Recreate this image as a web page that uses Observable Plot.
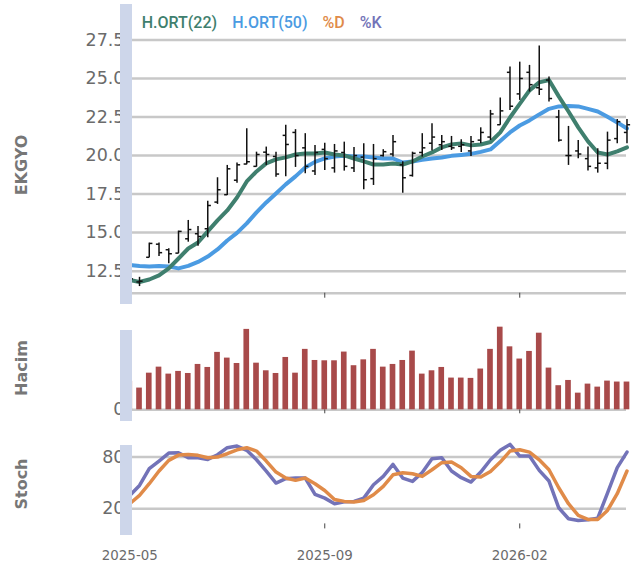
<!DOCTYPE html>
<html><head><meta charset="utf-8">
<script src="https://cdn.jsdelivr.net/npm/d3@7"></script>
<script src="https://cdn.jsdelivr.net/npm/@observablehq/plot@0.6"></script>
<style>
body{margin:0;background:#fff;}
#wrap{position:relative;width:641px;height:570px;overflow:hidden;font-family:"DejaVu Sans",sans-serif;}
#wrap svg{display:block;}
.strip{position:absolute;left:120px;width:11.7px;background:#cdd6ea;}
.ytitle{position:absolute;left:22px;transform:translate(-50%,-50%) rotate(-90deg);font-family:"DejaVu Sans",sans-serif;font-weight:bold;font-size:16px;color:#777;white-space:nowrap;line-height:16px;}
#legend{position:absolute;left:141.7px;top:15px;font-family:Roboto,sans-serif;font-weight:500;font-size:16px;line-height:16px;display:flex;gap:15px;white-space:nowrap;}
</style></head><body><div id="wrap"></div>
<script>
// ---- data (weekly bars) ----
const xTickIdx = [0, 20, 40];
const xTickLabels = ["2025-05", "2025-09", "2026-02"];
const priceTicks = [12.5, 15, 17.5, 20, 22.5, 25, 27.5];
const stochTicks = [20, 80];
const volTicks = [0];

const open  = [11.9,11.8,13.4,14.25,13.89,13.67,14.6,14.93,15.25,16.98,17.46,18.4,19.45,19.3,20.22,19.94,21.31,21.5,20.5,19.0,20.4,19.2,20.2,19.2,19.9,18.5,20.0,20.1,19.4,18.71,20.2,20.8,20.7,20.6,20.6,20.3,21.0,21.2,22.0,25.4,24.0,25.4,24.4,24.9,22.5,20.0,20.3,19.8,19.2,19.5,21.1,21.5];
const high  = [12.2,12.1,14.32,14.32,13.95,15.1,15.79,15.4,17.04,18.56,19.36,19.51,21.74,20.22,20.55,20.22,21.96,21.68,21.42,20.66,20.8,20.72,20.87,20.53,20.77,20.72,20.38,21.3,19.6,20.22,21.42,22.06,21.3,21.24,21.03,21.24,21.8,22.93,23.73,25.74,26.06,25.85,27.1,25.09,22.93,21.89,20.98,20.55,20.44,21.52,22.34,22.34];
const low   = [11.6,11.5,13.37,13.45,12.98,13.63,14.38,14.12,14.67,16.83,17.41,18.21,19.4,19.25,19.36,18.6,18.63,19.23,18.82,18.7,19.03,18.86,18.99,18.9,17.78,18.06,19.9,19.9,17.56,18.6,19.9,20.3,20.33,20.33,20.2,19.94,20.77,20.98,21.96,22.93,23.58,24.12,23.9,23.47,20.87,19.36,19.8,18.99,18.86,19.08,20.77,20.77];
const close = [12.0,11.85,14.3,13.7,13.63,15.08,15.2,14.75,16.76,17.78,19.14,19.4,19.6,20.07,20.07,18.8,20.72,20.0,19.3,20.2,19.8,20.3,19.3,20.0,18.43,19.8,20.25,20.9,18.56,20.15,20.5,21.2,20.9,20.5,20.7,20.9,21.5,22.7,22.9,23.2,25.0,24.6,24.3,23.7,21.0,20.0,20.1,19.3,19.5,21.0,22.2,22.0];
const volume = [17.9,13.7,23.1,26.9,22.5,24.2,22.9,28.6,26.7,36.2,32.6,29.2,50.7,29.4,24.6,22.9,33.0,23.1,38.1,31.1,30.9,30.9,36.4,27.8,31.5,38.1,26.9,28.6,31.1,37.0,22.5,24.6,26.7,20.0,20.0,19.8,25.7,38.1,52.1,39.7,32.0,36.8,48.3,26.3,15.2,18.5,10.5,16.2,14.3,18.1,17.5,17.5];
const ma22 = [11.93,11.8,11.96,12.22,12.68,13.32,13.97,14.36,15.08,15.79,16.44,17.28,18.32,18.97,19.49,19.75,19.88,20.07,20.14,20.14,20.2,20.07,20.01,19.81,19.62,19.42,19.42,19.49,19.42,19.62,19.94,20.2,20.53,20.72,20.79,20.66,20.72,20.88,21.5,22.47,23.35,24.23,24.75,24.9,23.84,22.86,21.83,20.92,20.2,20.07,20.27,20.53];
const ma50 = [12.9,12.84,12.8,12.84,12.8,12.68,12.84,13.1,13.45,13.91,14.49,14.98,15.6,16.31,16.96,17.54,18.13,18.65,19.23,19.59,19.81,19.94,19.98,19.94,19.94,19.88,19.81,19.81,19.55,19.62,19.72,19.81,19.88,19.98,20.04,20.11,20.24,20.4,20.95,21.5,21.95,22.28,22.67,23.03,23.19,23.22,23.19,23.03,22.86,22.51,22.15,21.76];
const stochK = [35.4,47.0,66.4,75.3,84.6,85.0,79.1,79.1,77.2,82.6,90.8,92.7,87.7,76.8,63.7,49.8,54.8,55.6,55.6,36.6,32.3,25.8,28.1,28.5,32.3,47.8,57.5,71.4,55.6,51.7,62.1,78.0,79.1,63.7,56.0,50.9,62.5,76.8,87.7,94.6,81.1,81.1,64.5,52.1,21.1,8.4,6.4,7.2,9.1,38.1,67.6,85.7];
const stochD = [25.8,35.4,49.0,63.7,76.1,82.2,83.0,81.9,79.1,79.9,83.8,88.4,90.8,86.9,75.3,62.5,55.6,52.9,55.6,49.0,41.2,30.8,28.5,27.7,29.6,36.2,45.9,59.4,61.8,60.6,57.5,65.2,73.4,74.1,67.5,57.5,56.7,63.3,74.1,86.9,88.4,85.7,76.8,65.2,44.3,25.8,12.2,7.6,7.6,18.0,37.4,63.7];

const seriesNames = ["H.ORT(22)", "H.ORT(50)", "%D", "%K"];
const seriesColors = ["#3f7f6e", "#4b9be2", "#e08b49", "#7373b8"];

const rows = open.map((o, i) => ({i, o, h: high[i], l: low[i], c: close[i], v: volume[i],
  m22: ma22[i], m50: ma50[i], k: stochK[i], d: stochD[i]}));

const xDomain = [0.28, 50.95];
const gridColor = "#c8c8c8";
const tickColor = "#6b6b6b";
const common = {width: 641, marginLeft: 132, marginRight: 15,
  style: {fontFamily: "DejaVu Sans", background: "transparent", color: tickColor, overflow: "visible"}};
const gridOpts = {stroke: gridColor, strokeOpacity: 1, strokeWidth: 2.5};

const priceMin = 11.07, priceMax = 29.8;
const price = Plot.plot({
  ...common, height: 310, marginTop: 4, marginBottom: 17.3,
  x: {type: "linear", domain: xDomain, axis: null},
  y: {domain: [priceMin, priceMax], axis: null},
  marks: [
    Plot.ruleY(priceTicks, gridOpts),
    Plot.ruleY([priceMin], gridOpts),
    Plot.axisY(priceTicks, {tickSize: 0, tickPadding: 8, tickFormat: d => d.toFixed(1), fontSize: 17.5, fill: tickColor, label: null}),
    Plot.axisX(xTickIdx.slice(1), {tickSize: 5, tickFormat: () => "", stroke: "#444", label: null}),
    Plot.line(rows, {x: "i", y: "m50", stroke: seriesColors[1], strokeWidth: 4}),
    Plot.line(rows, {x: "i", y: "m22", stroke: seriesColors[0], strokeWidth: 4}),
    Plot.ruleX(rows, {x: "i", y1: "l", y2: "h", stroke: "#111", strokeWidth: 1.5}),
    Plot.link(rows, {x1: d => d.i - 0.32, x2: "i", y1: "o", y2: "o", stroke: "#111", strokeWidth: 1.5}),
    Plot.link(rows, {x1: "i", x2: d => d.i + 0.32, y1: "c", y2: "c", stroke: "#111", strokeWidth: 1.5})
  ]
});

const vol = Plot.plot({
  ...common, height: 115, marginTop: 20, marginBottom: 15.7,
  x: {type: "linear", domain: xDomain, axis: null},
  y: {domain: [0, 50], axis: null},
  marks: [
    Plot.ruleY(volTicks, gridOpts),
    Plot.axisY(volTicks, {tickSize: 0, tickPadding: 8, fontSize: 17.5, fill: tickColor, label: null}),
    Plot.axisX(xTickIdx.slice(1), {tickSize: 4, tickFormat: () => "", stroke: "#444", label: null}),
    Plot.rectY(rows, {x1: d => d.i - 0.29, x2: d => d.i + 0.29, y: "v", fill: "#a84a4a"})
  ]
});

const stoch = Plot.plot({
  ...common, height: 145, marginTop: 19.6, marginBottom: 46.6,
  x: {type: "linear", domain: xDomain, axis: null},
  y: {domain: [2.4, 93.8], axis: null},
  marks: [
    Plot.ruleY(stochTicks, gridOpts),
    Plot.axisY(stochTicks, {tickSize: 0, tickPadding: 8, fontSize: 17.5, fill: tickColor, label: null}),
    Plot.axisX(xTickIdx.slice(1), {tickSize: 5, tickFormat: () => "", stroke: "#444", label: null}),
    Plot.axisX(xTickIdx, {tickSize: 0, tickPadding: 27, tickFormat: d => xTickLabels[xTickIdx.indexOf(d)], fontSize: 13.4, fill: tickColor, label: null}),
    Plot.line(rows, {x: "i", y: "k", stroke: seriesColors[3], strokeWidth: 3.5, strokeLinejoin: "round"}),
    Plot.line(rows, {x: "i", y: "d", stroke: seriesColors[2], strokeWidth: 3.5, strokeLinejoin: "round"})
  ]
});

const wrap = document.getElementById("wrap");
wrap.append(price, vol, stoch);

// y-axis side bands
[[4, 300.3], [330, 90.7], [444.6, 90.4]].forEach(([t, h]) => {
  const s = document.createElement("div");
  s.className = "strip"; s.style.top = t + "px"; s.style.height = h + "px";
  wrap.append(s);
});
// panel titles
[["EKGYO", 165], ["Hacim", 368], ["Stoch", 484]].forEach(([txt, cy]) => {
  const t = document.createElement("div");
  t.className = "ytitle"; t.textContent = txt; t.style.top = cy + "px";
  wrap.append(t);
});
// legend
const lg = document.createElement("div");
lg.id = "legend";
seriesNames.forEach((n, j) => {
  const s = document.createElement("span");
  s.textContent = n; s.style.color = seriesColors[j];
  lg.append(s);
});
wrap.append(lg);
</script>
</body></html>
